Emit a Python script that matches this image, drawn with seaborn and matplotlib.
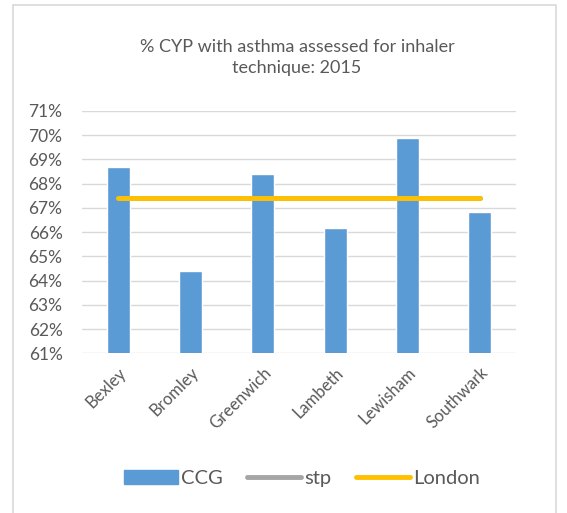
import seaborn as sns
import matplotlib.pyplot as plt
import matplotlib.patches as mpatches
from matplotlib.lines import Line2D
from matplotlib.ticker import FuncFormatter
import pandas as pd

# Datos
boroughs = ['Bexley', 'Bromley', 'Greenwich', 'Lambeth', 'Lewisham', 'Southwark']
ccg = [68.67, 64.38, 68.39, 66.17, 69.86, 66.85]
stp = [67.39, 67.39, 67.39, 67.39, 67.39, 67.39]
london = [67.39, 67.39, 67.39, 67.39, 67.39, 67.39]

df = pd.DataFrame({'borough': boroughs, 'CCG': ccg, 'stp': stp, 'London': london})

sns.set_style('white')
plt.rcParams['font.family'] = ['Lato', 'DejaVu Sans']
text_col = '#595959'

fig = plt.figure(figsize=(5.67, 5.13), dpi=100)
ax = fig.add_axes([0.1446, 0.311, 0.7654, 0.473])

sns.barplot(data=df, x='borough', y='CCG', color='#5b9bd5', width=0.32,
            saturation=1, ax=ax, zorder=2)
sns.lineplot(x=range(len(boroughs)), y=df['stp'], color='#a5a5a5', linewidth=3.5,
             ax=ax, zorder=3)
sns.lineplot(x=range(len(boroughs)), y=df['London'], color='#ffc000', linewidth=3.5,
             ax=ax, zorder=4, solid_capstyle='round')

ax.set_ylim(61, 71)
ax.set_yticks(range(61, 72))
ax.yaxis.set_major_formatter(FuncFormatter(lambda v, p: f'{int(v)}%'))
ax.set_xlim(-0.5, 5.5)
ax.grid(axis='y', color='#d9d9d9', linewidth=1, zorder=0)
ax.set_axisbelow(True)
for s in ax.spines.values():
    s.set_visible(False)
ax.set_xlabel('')
ax.set_ylabel('')
ax.tick_params(axis='y', labelsize=12.5, colors=text_col, length=0, pad=14)
ax.tick_params(axis='x', labelsize=12, colors=text_col, length=0, pad=8)
plt.setp(ax.get_xticklabels(), rotation=45, ha='right', rotation_mode='anchor')

fig.text(0.524, 0.888, '% CYP with asthma assessed for inhaler\ntechnique: 2015',
         ha='center', va='center', fontsize=13, color=text_col, linespacing=1.45)

handles = [mpatches.Patch(color='#5b9bd5', label='CCG'),
           Line2D([0], [0], color='#a5a5a5', linewidth=3.5, label='stp', solid_capstyle='round'),
           Line2D([0], [0], color='#ffc000', linewidth=3.5, label='London', solid_capstyle='round')]
fig.legend(handles=handles, loc='center', bbox_to_anchor=(0.532, 0.067), ncol=3,
           frameon=False, fontsize=14.5, handlelength=2.7, handletextpad=0.15,
           columnspacing=1.2, labelcolor=text_col)

# Marco del gráfico
fig.patches.append(mpatches.Rectangle((13 / 567, -0.01), 543 / 567, 1 - 5 / 513 + 0.01,
                                      transform=fig.transFigure, fill=False,
                                      edgecolor='#d9d9d9', linewidth=1.2))

fig.savefig('out.png', dpi=100)
